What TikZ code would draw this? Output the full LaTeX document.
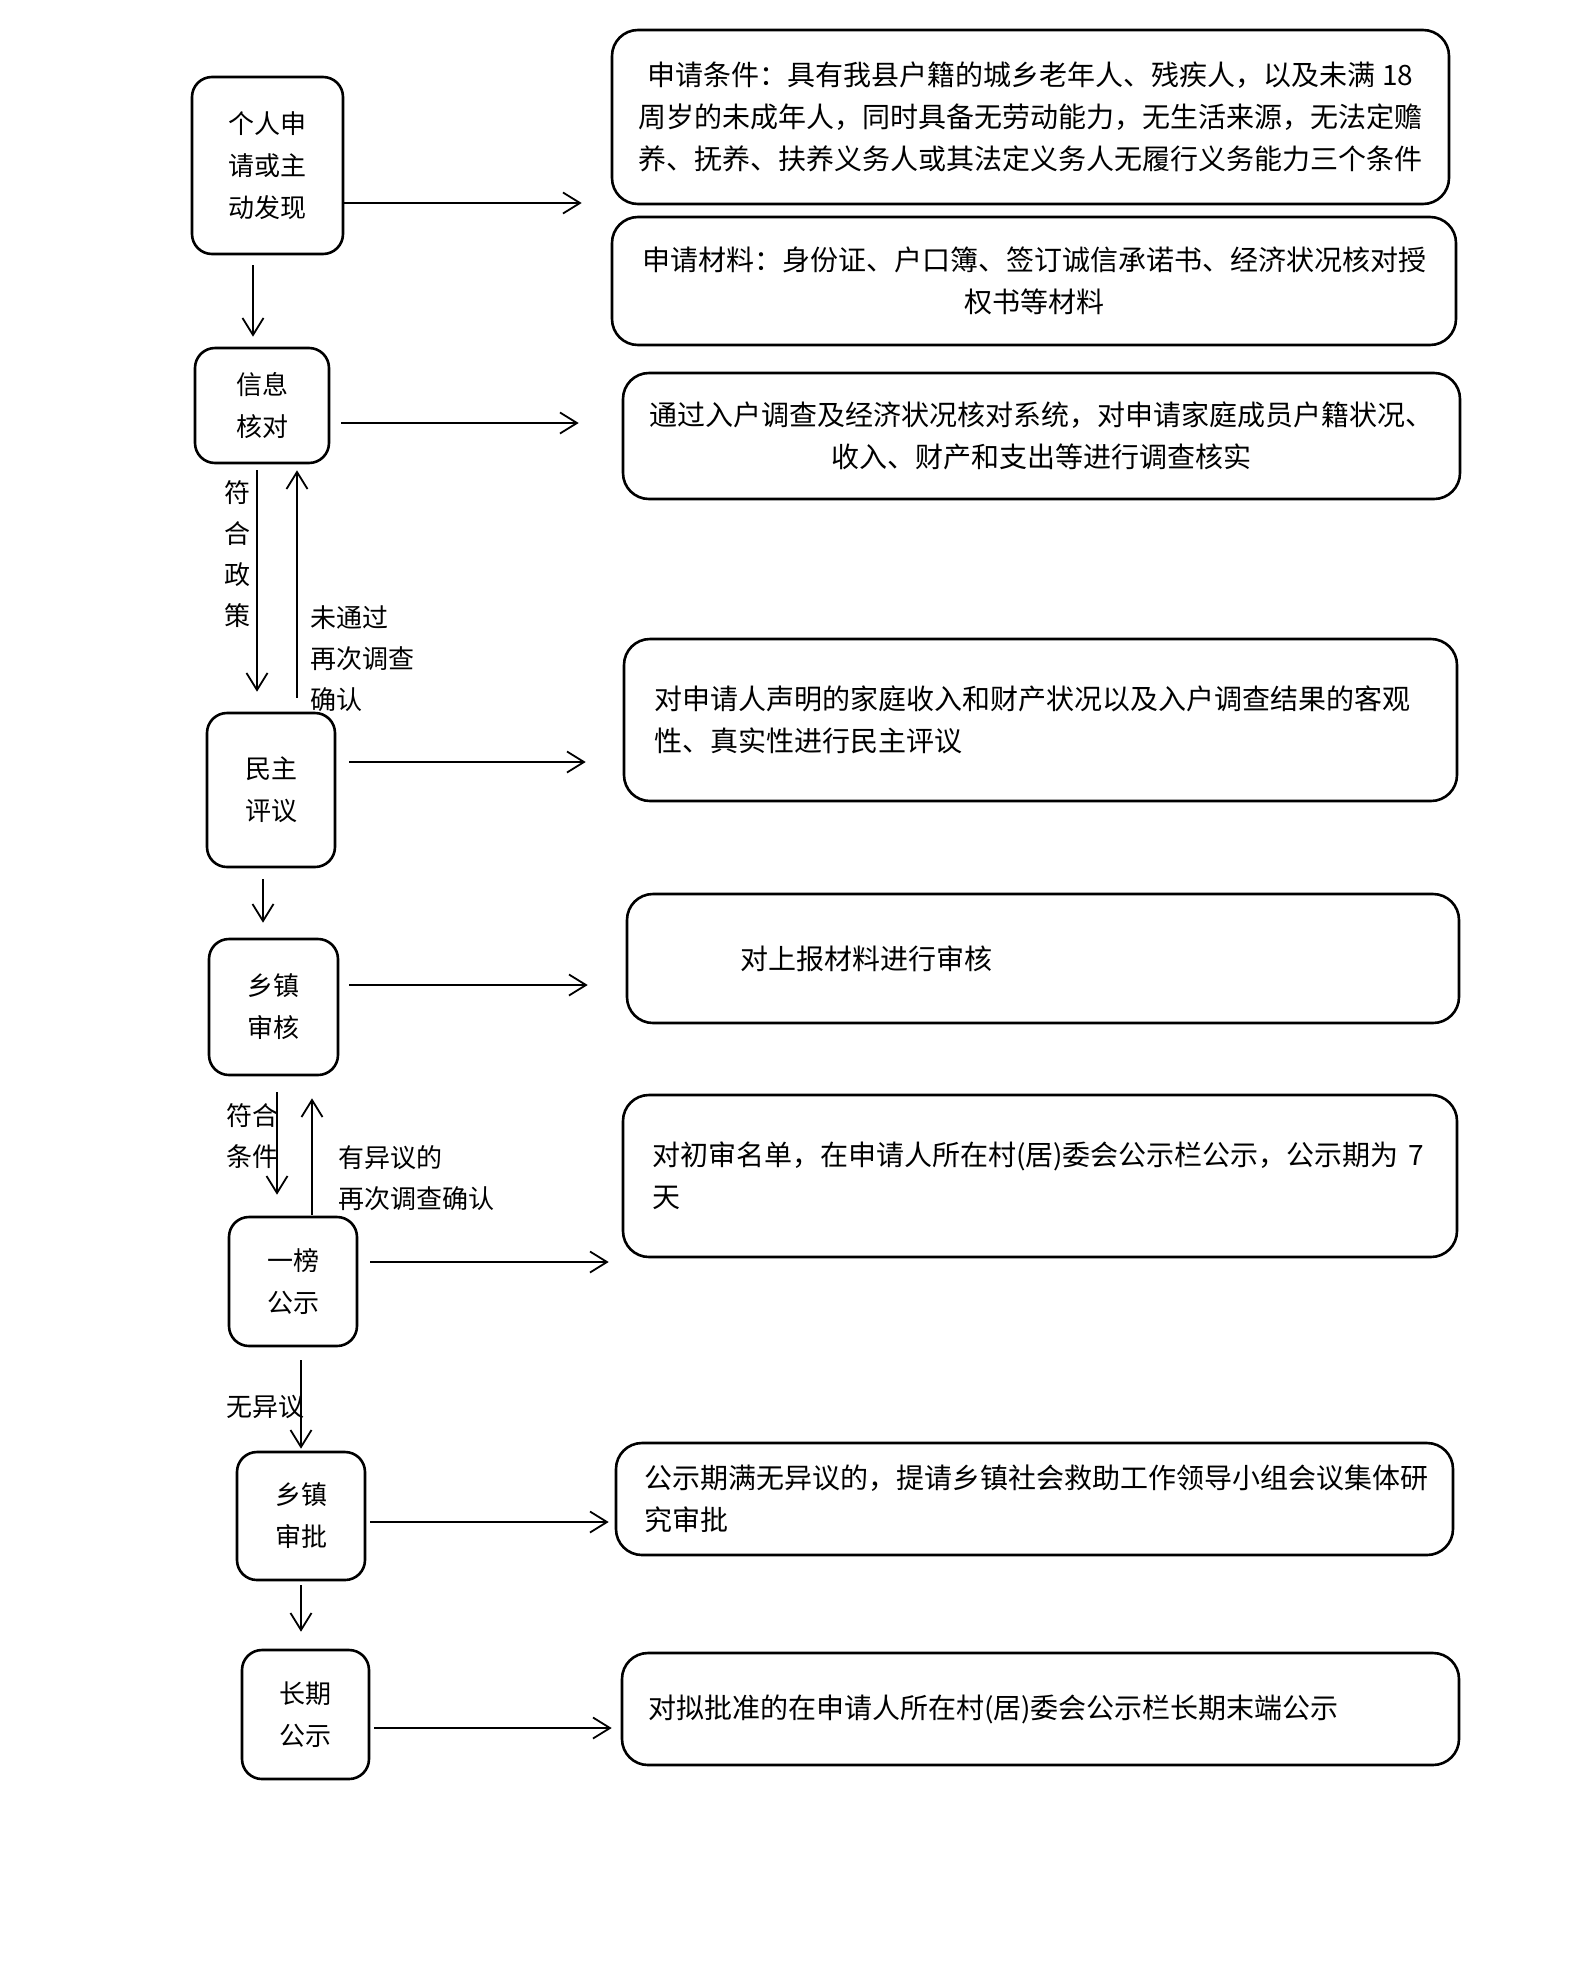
\documentclass[tikz,border=0pt]{standalone}
\usepackage{fontspec}
\setmainfont{Noto Sans CJK SC}
\usetikzlibrary{arrows.meta}
\begin{document}
\begin{tikzpicture}[x=1pt,y=-1pt,
  lbox/.style={draw, line width=2.6pt, rounded corners=20pt, inner sep=0pt, align=center, font=\fontsize{26}{42}\selectfont},
  rbox/.style={draw, line width=2.6pt, rounded corners=26pt, inner sep=0pt, font=\fontsize{28}{42}\selectfont},
  lab/.style={inner sep=0pt, font=\fontsize{26}{41}\selectfont},
  arr/.style={line width=1.8pt, -{Straight Barb[length=17pt,width=21pt,line width=1.8pt]}}]
\fill[white] (0,0) rectangle (1571,1968);
\useasboundingbox (0,0) rectangle (1571,1968);

% left column
\node[lbox, minimum width=151pt, minimum height=177pt] (b1) at (267.5,165.5) {个人申\\请或主\\动发现};
\node[lbox, minimum width=134pt, minimum height=115pt] (b2) at (262,405.5) {信息\\核对};
\node[lbox, minimum width=128pt, minimum height=154pt] (b3) at (271,790) {民主\\评议};
\node[lbox, minimum width=129pt, minimum height=136pt] (b4) at (273.5,1007) {乡镇\\审核};
\node[lbox, minimum width=128pt, minimum height=129pt] (b5) at (293,1281.5) {一榜\\公示};
\node[lbox, minimum width=128pt, minimum height=128pt] (b6) at (301,1516) {乡镇\\审批};
\node[lbox, minimum width=127pt, minimum height=129pt] (b7) at (305.5,1714.5) {长期\\公示};

% right column
\node[rbox, align=center, minimum width=837pt, minimum height=174pt] (A) at (1030.5,117)
  {申请条件：具有我县户籍的城乡老年人、残疾人，以及未满 18\\周岁的未成年人，同时具备无劳动能力，无生活来源，无法定赡\\养、抚养、扶养义务人或其法定义务人无履行义务能力三个条件};
\node[rbox, align=center, minimum width=844pt, minimum height=128pt] (B) at (1034,281)
  {申请材料：身份证、户口簿、签订诚信承诺书、经济状况核对授\\权书等材料};
\node[rbox, align=center, minimum width=837pt, minimum height=126pt] (C) at (1041.5,436)
  {通过入户调查及经济状况核对系统，对申请家庭成员户籍状况、\\收入、财产和支出等进行调查核实};
\node[rbox, align=left, text width=773pt, minimum width=833pt, minimum height=162pt] (D) at (1040.5,720)
  {对申请人声明的家庭收入和财产状况以及入户调查结果的客观\\性、真实性进行民主评议};
\node[rbox, align=left, text width=606pt, minimum width=832pt, minimum height=129pt] (E) at (1043,958.5)
  {对上报材料进行审核};
\node[rbox, align=left, text width=776pt, minimum width=834pt, minimum height=162pt] (F) at (1040,1176)
  {对初审名单，在申请人所在村(居)委会公示栏公示，公示期为 7\\天};
\node[rbox, align=left, text width=781pt, minimum width=837pt, minimum height=112pt] (G) at (1034.5,1499)
  {公示期满无异议的，提请乡镇社会救助工作领导小组会议集体研\\究审批};
\node[rbox, align=left, text width=785pt, minimum width=837pt, minimum height=112pt] (H) at (1040.5,1709)
  {对拟批准的在申请人所在村(居)委会公示栏长期末端公示};

% labels
\node[lab, align=center] (l1) at (237,554) {符\\合\\政\\策};
\node[lab, anchor=west, align=left] (l2) at (310,658.5) {未通过\\再次调查\\确认};
\node[lab, anchor=west, align=left] (l3) at (226,1136) {符合\\条件};
\node[lab, anchor=west, align=left] (l4) at (338,1178.5) {有异议的\\再次调查确认};
\node[lab, anchor=west] (l5) at (226,1407) {无异议};

% horizontal connectors
\coordinate (h1) at ([yshift=-37.5pt]b1.east);
\draw[arr, shorten >=29pt] (h1) -- (h1 -| A.west);
\coordinate (h2) at ([yshift=-17.5pt]b2.east);
\draw[arr, shorten <=11pt, shorten >=43pt] (h2) -- (h2 -| C.west);
\coordinate (h3) at ([yshift=28pt]b3.east);
\draw[arr, shorten <=13pt, shorten >=37pt] (h3) -- (h3 -| D.west);
\coordinate (h4) at ([yshift=22pt]b4.east);
\draw[arr, shorten <=10pt, shorten >=38pt] (h4) -- (h4 -| E.west);
\coordinate (h5) at ([yshift=19.5pt]b5.east);
\draw[arr, shorten <=12pt, shorten >=13pt] (h5) -- (h5 -| F.west);
\coordinate (h6) at ([yshift=-6pt]b6.east);
\draw[arr, shorten <=4pt, shorten >=6pt] (h6) -- (h6 -| G.west);
\coordinate (h7) at ([yshift=-13.5pt]b7.east);
\draw[arr, shorten <=4pt, shorten >=9pt] (h7) -- (h7 -| H.west);

% vertical connectors
\coordinate (v1) at ([xshift=-14.5pt]b1.south);
\draw[arr, shorten <=10pt, shorten >=10pt] (v1) -- (v1 |- b2.north);
\coordinate (v2) at ([xshift=-5pt]b2.south);
\draw[arr, shorten <=6pt, shorten >=20pt] (v2) -- (v2 |- b3.north);
\coordinate (v3) at ([xshift=26pt]b3.north);
\draw[arr, shorten <=14pt, shorten >=6pt] (v3) -- (v3 |- b2.south);
\coordinate (v4) at ([xshift=-8pt]b3.south);
\draw[arr, shorten <=11pt, shorten >=15pt] (v4) -- (v4 |- b4.north);
\coordinate (v5) at ([xshift=3.5pt]b4.south);
\draw[arr, shorten <=16pt, shorten >=21pt] (v5) -- (v5 |- b5.north);
\coordinate (v6) at ([xshift=19pt]b5.north);
\draw[arr, shorten <=1pt, shorten >=22pt] (v6) -- (v6 |- b4.south);
\coordinate (v7) at ([xshift=8pt]b5.south);
\draw[arr, shorten <=13pt, shorten >=2pt] (v7) -- (v7 |- b6.north);
\coordinate (v8) at (b6.south);
\draw[arr, shorten <=4pt, shorten >=17pt] (v8) -- (v8 |- b7.north);
\end{tikzpicture}
\end{document}
